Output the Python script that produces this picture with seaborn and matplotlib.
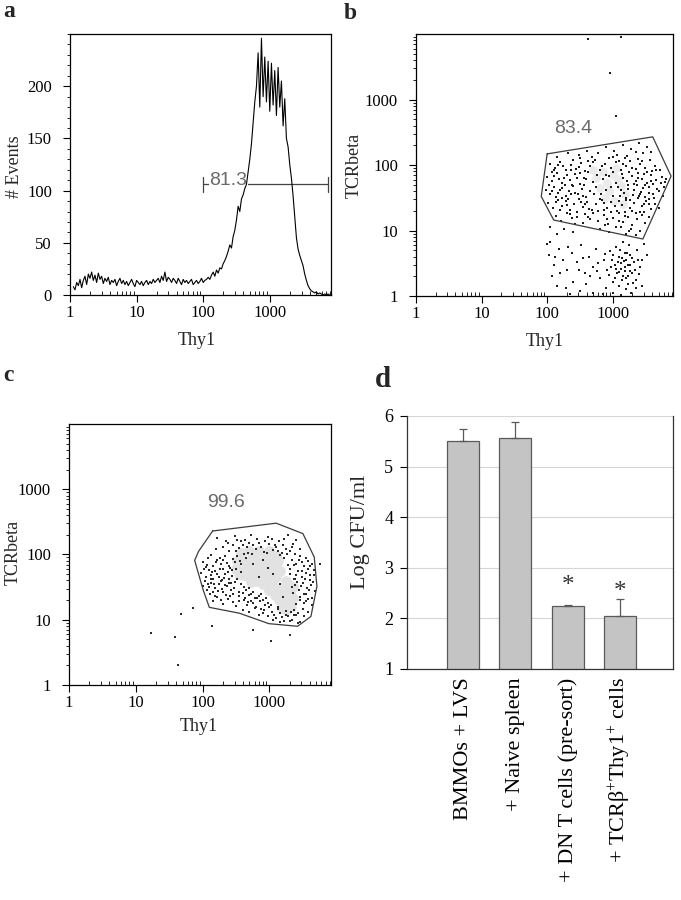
import numpy as np
import matplotlib
matplotlib.use("Agg")
import matplotlib.pyplot as plt
from matplotlib.ticker import LogLocator, NullFormatter, MultipleLocator
import seaborn as sns

sns.set_theme(style="ticks", rc={"axes.edgecolor": "black", "axes.linewidth": 0.9,
                                 "xtick.color": "black", "ytick.color": "black"})
plt.rcParams['font.family'] = ['Liberation Serif', 'DejaVu Serif']
plt.rcParams['mathtext.fontset'] = 'custom'
plt.rcParams['mathtext.rm'] = 'Liberation Serif'
plt.rcParams['mathtext.default'] = 'regular'

# ---- panel a : Thy1 histogram (channel position in log10 units, counts)
hist_log0, hist_step = 0.05, 0.025
hist_counts = [8, 5, 12, 9, 15, 7, 14, 18, 10, 20, 16,
               22, 14, 19, 12, 21, 15, 18, 11, 16, 13,
               17, 10, 14, 12, 15, 9, 13, 16, 11, 14,
               10, 13, 9, 12, 15, 11, 8, 14, 12, 10,
               13, 9, 12, 14, 10, 13, 11, 15, 12, 14,
               16, 12, 18, 14, 22, 13, 17, 15, 12, 16,
               14, 11, 16, 13, 10, 15, 12, 14, 11, 13,
               15, 10, 12, 14, 11, 13, 16, 12, 14, 15,
               17, 15, 19, 22, 18, 24, 21, 26, 25, 30,
               33, 37, 42, 48, 45, 56, 62, 72, 85, 80,
               92, 96, 102, 106, 118, 130, 145, 165, 185, 200,
               232, 180, 246, 190, 228, 185, 224, 176, 222, 182,
               215, 172, 218, 180, 205, 162, 188, 150, 142, 125,
               112, 95, 75, 55, 44, 38, 33, 28, 20, 14,
               9, 6, 4, 3, 2, 3, 1, 2, 1, 0,
               1, 0, 1, 0]
gate_a = (100, 7600)
gate_a_y = 106
label_a = "81.3"

# ---- panel b : TCRbeta vs Thy1 (log10 units)
b_dark = [(2.15,2.12),(2.32,2.18),(2.48,2.15),(2.61,2.22),(2.77,2.19),(2.90,2.27),(3.02,2.21),(3.15,2.30),
          (3.28,2.25),(3.40,2.33),(3.52,2.28),(2.40,2.08),(2.95,2.10),(3.22,2.14),(3.46,2.18),(2.70,2.05),
          (3.10,2.06),(3.58,2.20),
          (2.05,2.02),(2.12,1.95),(2.20,2.05),(2.28,1.92),(2.36,2.00),(2.44,1.94),(2.52,2.03),(2.58,1.91),
          (2.66,1.98),(2.73,2.07),(2.80,1.93),(2.88,2.01),(2.97,1.95),(3.05,2.04),(3.12,1.92),(3.20,1.99),
          (3.27,2.06),(3.35,1.94),(3.42,2.02),(3.50,1.96),(3.57,2.08),(3.65,1.99),(3.72,1.93),(2.24,1.98),
          (2.62,2.06),(3.00,1.90),(3.38,2.09),(3.60,1.91),(2.48,1.97),(3.16,2.01),
          (2.00,1.82),(2.08,1.75),(2.15,1.88),(2.22,1.72),(2.30,1.84),(2.35,1.77),(2.42,1.86),(2.50,1.71),
          (2.56,1.80),(2.63,1.89),(2.70,1.74),(2.76,1.85),(2.85,1.78),(2.95,1.83),(3.05,1.72),(3.14,1.87),
          (3.22,1.76),(3.29,1.83),(3.33,1.71),(3.39,1.88),(3.45,1.79),(3.52,1.73),(3.58,1.85),(3.66,1.77),
          (3.75,1.82),(3.80,1.74),(2.18,1.79),(2.46,1.80),(3.25,1.90),(3.48,1.86),(3.62,1.71),(2.38,1.70),
          (2.11,1.83),(3.36,1.76),
          (1.98,1.62),(2.04,1.55),(2.10,1.67),(2.17,1.58),(2.23,1.65),(2.29,1.52),(2.34,1.61),(2.40,1.68),
          (2.47,1.56),(2.53,1.64),(2.59,1.51),(2.66,1.60),(2.74,1.66),(2.82,1.55),(2.90,1.62),(3.00,1.53),
          (3.08,1.66),(3.17,1.57),(3.24,1.63),(3.31,1.54),(3.37,1.69),(3.43,1.59),(3.49,1.51),(3.55,1.66),
          (3.61,1.56),(3.68,1.63),(3.76,1.53),(2.13,1.51),(2.37,1.55),(2.56,1.69),(3.21,1.50),(3.46,1.65),
          (2.27,1.69),(3.13,1.62),(3.40,1.52),(2.07,1.60),
          (2.02,1.42),(2.09,1.35),(2.16,1.47),(2.22,1.38),(2.28,1.45),(2.35,1.32),(2.41,1.41),(2.48,1.48),
          (2.55,1.36),(2.61,1.44),(2.68,1.31),(2.75,1.40),(2.83,1.47),(2.91,1.35),(2.98,1.43),(3.06,1.30),
          (3.14,1.39),(3.21,1.46),(3.27,1.34),(3.33,1.42),(3.39,1.49),(3.45,1.37),(3.51,1.45),(3.58,1.33),
          (3.64,1.41),(3.70,1.35),(2.31,1.39),(2.52,1.43),(2.87,1.32),(3.10,1.45),(3.30,1.30),(3.55,1.48),
          (2.19,1.31),(3.48,1.40),
          (2.14,1.22),(2.21,1.15),(2.30,1.26),(2.38,1.19),(2.46,1.28),(2.54,1.12),(2.62,1.21),(2.70,1.27),
          (2.78,1.14),(2.86,1.23),(2.93,1.10),(3.01,1.19),(3.09,1.26),(3.16,1.13),(3.23,1.21),(3.30,1.08),
          (3.37,1.17),(3.44,1.24),(3.50,1.11),(3.56,1.20),(2.97,1.29),(3.19,1.28),(2.58,1.25),(3.41,1.29),
          (3.12,1.05),
          (2.80,1.03),(2.95,0.98),(3.05,1.06),(3.20,0.95),(3.28,1.02),(3.35,0.93),(3.42,1.00),(2.88,1.08),
          (2.05,1.05),(2.15,0.95),(2.25,1.02),(2.00,0.80),(2.40,0.98),
          (2.03,1.70),(2.07,1.90),(2.13,1.44),(2.17,2.00),(2.20,1.62),(2.26,1.80),(2.32,1.48),(2.37,1.93),
          (2.43,1.58),(2.45,1.20),(2.50,1.88),(2.55,1.52),(2.60,1.78),(2.64,1.33),(2.68,2.12),(2.72,1.56),
          (2.78,1.30),(2.83,1.98),(2.86,1.42),(2.92,1.18),(2.98,1.66),(3.03,1.38),(3.07,2.15),(3.11,1.52),
          (3.15,1.80),(3.18,1.22),(3.23,1.70),(3.26,1.46),(3.30,1.96),(3.32,1.62),(3.35,1.26),(3.38,1.80),
          (3.41,1.56),(3.44,2.06),(3.47,1.28),(3.50,1.70),(3.53,1.90),(3.56,1.40),(3.59,1.76),(3.63,1.50),
          (3.66,1.92),(3.70,1.60),(3.73,1.72),(3.78,1.66),(3.82,1.78),(2.58,1.40),(2.35,1.25),(2.22,1.50),
          (2.10,1.92),(3.00,2.12),(2.90,1.85),(3.18,2.10),(3.36,2.20),(2.50,2.10),(2.80,1.48),(3.10,1.15),
          (3.25,1.00),(2.66,1.18),(2.42,1.10),(3.55,1.58)]
b_low = [(2.03,0.62),(2.10,0.48),(2.18,0.72),(2.24,0.55),(2.08,0.30),(2.30,0.40),(2.38,0.66),(2.45,0.52),
         (2.52,0.78),(2.58,0.35),(2.64,0.60),(2.70,0.45),(2.75,0.72),(2.81,0.28),(2.86,0.55),(2.92,0.40),
         (2.96,0.68),(3.00,0.22),(3.03,0.48),(3.06,0.35),(3.09,0.60),(3.12,0.42),(3.14,0.25),(3.17,0.53),
         (3.19,0.38),(3.22,0.65),(3.24,0.30),(3.27,0.47),(3.29,0.58),(3.31,0.20),(3.34,0.40),(3.37,0.70),
         (3.40,0.33),(3.44,0.55),(3.48,0.80),(3.52,0.62),(3.10,0.15),(3.20,0.10),(2.90,0.12),(3.05,0.75),
         (3.15,0.82),(3.25,0.78),(2.60,0.18),(2.40,0.22),(2.15,0.15),(2.50,0.08),(2.70,0.05),(2.85,0.03),
         (3.00,0.04),(3.13,0.02),(3.28,0.05),(2.35,0.03),(2.95,0.32),(3.08,0.52),(3.18,0.45),(3.23,0.18),
         (3.33,0.52),(3.01,0.62),(2.78,0.50),(2.66,0.30),(3.11,0.70),(3.26,0.38),(3.16,0.30),(3.04,0.28),
         (3.21,0.55),(2.98,0.45),(3.36,0.25),(2.48,0.40),(2.20,0.35),(2.12,0.60),(3.45,0.15),(3.42,0.45),
         (3.05,0.42),(3.14,0.58),(3.20,0.28),(3.27,0.62),(3.30,0.35),(3.18,0.66),(3.09,0.36),(3.24,0.48),
         (2.99,0.55),(3.12,0.50),(2.88,0.64),(2.76,0.38),(2.55,0.58),(2.32,0.75),(3.38,0.55),(3.35,0.12),
         (2.05,0.82),(2.28,0.12)]
b_light = [(2.75,1.80),(2.85,1.90),(2.92,1.72),(3.00,1.85),(3.08,1.78),(2.80,1.65),(2.95,1.60),
           (3.05,1.95),(3.12,1.68),(2.70,1.92),(3.18,1.55),(2.88,1.50),(3.02,1.45),(3.15,1.40)]
b_outliers = [(2.62,3.93),(2.96,3.40),(3.05,2.75),(3.12,3.95)]
gate_b = [(2.00,2.17),(3.61,2.43),(3.89,1.83),(3.46,0.87),(2.10,1.16),(1.91,1.52),(2.00,2.17)]
label_b = "83.4"

# ---- panel c : TCRbeta vs Thy1 after sort (log10 units)
c_dark = [(2.22,2.25),(2.35,2.20),(2.48,2.28),(2.60,2.15),(2.72,2.30),(2.85,2.18),(2.98,2.27),(3.10,2.12),
          (3.22,2.24),(3.35,2.16),(3.45,2.08),(2.40,2.05),(2.55,2.10),(2.68,2.02),(2.80,2.08),(2.92,2.04),
          (3.05,2.07),(3.18,2.03),(3.30,2.05),(2.30,2.12),(2.64,2.22),(3.00,2.16),(3.28,2.30),(3.14,2.20),
          (2.45,2.15),(2.76,2.14),(3.40,2.22),(2.20,2.08),
          (2.00,1.88),(2.08,1.95),(2.15,1.82),(2.22,1.92),(2.28,1.85),(2.34,1.98),(2.40,1.83),(2.46,1.93),
          (2.52,1.97),(2.58,1.86),(3.22,1.95),(3.28,1.84),(3.34,1.92),(3.40,1.86),(3.46,1.97),(3.52,1.82),
          (3.58,1.90),(3.64,1.85),(2.12,1.99),(2.65,1.95),(3.15,1.99),(2.05,1.81),(3.48,1.89),(2.30,1.92),
          (1.98,1.72),(2.05,1.65),(2.10,1.76),(2.16,1.62),(2.21,1.70),(2.26,1.78),(2.32,1.64),(2.38,1.73),
          (2.44,1.67),(2.50,1.77),(3.30,1.70),(3.36,1.63),(3.42,1.75),(3.48,1.66),(3.54,1.72),(3.60,1.61),
          (3.66,1.69),(2.13,1.69),(2.29,1.61),(2.41,1.79),(3.39,1.68),(3.57,1.78),(2.02,1.78),(2.19,1.75),
          (2.00,1.52),(2.06,1.45),(2.12,1.57),(2.18,1.48),(2.24,1.55),(2.30,1.42),(2.36,1.51),(2.42,1.46),
          (2.48,1.58),(2.55,1.43),(2.62,1.50),(3.38,1.53),(3.44,1.45),(3.50,1.57),(3.56,1.48),(3.62,1.54),
          (3.68,1.44),(2.15,1.42),(2.27,1.59),(2.39,1.56),(2.58,1.55),(3.47,1.51),(3.35,1.41),(2.09,1.50),
          (2.15,1.28),(2.22,1.35),(2.30,1.24),(2.38,1.32),(2.46,1.27),(2.54,1.36),(2.62,1.30),(2.70,1.38),
          (2.76,1.25),(2.82,1.33),(3.45,1.35),(3.52,1.26),(3.58,1.32),(3.64,1.22),(3.40,1.24),(2.50,1.21),
          (2.66,1.22),(2.88,1.39),(2.35,1.38),(3.55,1.39),
          (2.70,1.12),(2.78,1.18),(2.85,1.08),(2.92,1.15),(2.98,1.05),(3.04,1.12),(3.10,1.02),(3.16,1.10),
          (3.22,0.98),(3.28,1.06),(3.34,1.00),(3.40,1.08),(3.46,0.97),(3.52,1.05),(2.60,1.15),(3.00,1.19),
          (3.13,1.17),(3.37,1.15),(3.57,1.12),(3.25,1.14),
          (2.65,1.45),(2.72,1.40),(2.78,1.34),(2.86,1.28),(2.94,1.22),(2.70,1.48),(2.90,1.30),(2.98,1.26),
          (2.75,1.85),(2.90,1.92),(3.05,1.70),(2.85,1.65),(3.15,1.55),(3.20,1.35),(2.98,1.80),
          (2.03,1.60),(2.07,1.84),(2.11,1.40),(2.14,1.73),(2.17,1.55),(2.20,1.88),(2.23,1.44),(2.25,1.66),
          (2.27,1.31),(2.31,1.77),(2.33,1.53),(2.36,1.87),(2.39,1.63),(2.41,1.36),(2.44,1.76),(2.47,1.49),
          (2.49,1.88),(2.52,1.62),(2.54,1.28),(2.57,1.73),(2.60,1.41),(2.18,1.36),(2.26,1.94),(2.43,1.56),
          (2.34,1.70),(2.12,1.63),(2.08,1.55),(2.29,1.47),(2.46,1.40),(2.56,1.90),
          (2.38,2.18),(2.50,2.06),(2.58,2.20),(2.66,2.12),(2.74,2.00),(2.82,2.24),(2.88,2.11),(2.96,2.02),
          (3.04,2.24),(3.12,2.06),(3.20,2.15),(3.26,2.01),(3.33,2.11),(3.38,2.00),(2.70,2.18),(2.94,2.20),
          (3.08,2.15),(2.52,2.22),(3.24,2.08),(2.62,2.00),
          (3.31,1.78),(3.37,1.84),(3.41,1.58),(3.44,1.92),(3.46,1.30),(3.49,1.74),(3.51,1.40),(3.53,1.62),
          (3.55,1.94),(3.59,1.45),(3.61,1.82),(3.63,1.34),(3.65,1.58),(3.67,1.76),(3.43,1.10),(3.50,1.17),
          (3.38,1.62),(3.33,1.50),(3.54,1.28),(3.60,1.68),
          (2.64,1.33),(2.73,1.29),(2.80,1.20),(2.84,1.37),(2.90,1.10),(2.95,1.33),(3.02,1.23),(3.07,1.08),
          (3.12,1.20),(3.18,1.04),(3.24,1.08),(3.30,0.98),(3.36,1.07),(3.42,0.95),(2.76,1.42),(2.68,1.27),
          (3.15,0.97),(2.88,1.17),(3.05,1.00),(3.32,1.12)]
c_light = [(2.60,1.75),(2.65,1.88),(2.70,1.65),(2.75,1.95),(2.80,1.78),(2.85,1.88),(2.88,1.70),(2.92,1.82),
           (2.95,1.98),(3.00,1.75),(3.02,1.90),(3.08,1.82),(3.10,1.65),(2.72,1.58),(2.82,1.60),(2.96,1.62),
           (3.05,1.52),(3.12,1.45),(3.18,1.38),(3.22,1.50),(3.26,1.28),(3.30,1.42),(3.32,1.20),(3.20,1.22),
           (3.14,1.30),(3.08,1.38),(3.24,1.60),(2.78,1.70),(2.68,1.80),(3.00,1.45),(3.28,1.55),(3.18,1.18),
           (2.90,1.55),(3.10,1.98),(2.62,1.68),(3.35,1.33),
           (2.52,1.90),(2.55,1.70),(2.58,2.02),(2.70,2.05),(2.85,2.05),(3.00,2.06),(3.12,1.90),(3.15,1.75),
           (3.30,1.30),(3.35,1.50),(3.25,1.15),(2.50,1.78)]
c_outliers = [(1.23,0.79),(1.58,0.74),(1.63,0.31),(1.68,1.09),(1.86,1.18),(2.14,0.91),(2.76,0.84),
              (3.02,0.67),(3.30,0.77),(3.75,1.85)]
gate_c = [(2.15,2.36),(3.10,2.48),(3.50,2.32),(3.67,1.96),(3.71,1.51),(3.62,1.05),(3.42,0.90),
          (2.99,0.94),(2.55,1.10),(2.10,1.19),(2.01,1.45),(1.88,1.91),(1.94,2.05),(2.15,2.36)]
label_c = "99.6"

# ---- panel d : bacterial growth
groups = ["BMMOs + LVS", "+ Naive spleen", "+ DN T cells (pre-sort)",
          "+ TCRβ$^{+}$Thy1$^{+}$ cells"]
log_cfu = [5.50, 5.57, 2.24, 2.05]
log_cfu_err = [0.25, 0.32, 0.03, 0.34]
star_groups = [2, 3]
star_base = [2.52, 2.41]

decades = [1, 10, 100, 1000]
decade_labels = ["1", "10", "100", "1000"]

fig = plt.figure(figsize=(6.81, 9), dpi=100)
ax_a = fig.add_axes([0.1028, 0.6722, 0.3833, 0.2900])
ax_b = fig.add_axes([0.6109, 0.6711, 0.3774, 0.2911])
ax_c = fig.add_axes([0.1013, 0.2389, 0.3847, 0.2900])
ax_d = fig.add_axes([0.5977, 0.2567, 0.3906, 0.2811])


def log_x_axis(ax):
    ax.set_xscale("log")
    ax.set_xlim(1, 10 ** 3.92)
    ax.set_xticks(decades)
    ax.set_xticklabels(decade_labels)
    ax.xaxis.set_minor_locator(LogLocator(base=10, subs=range(2, 10), numticks=20))
    ax.xaxis.set_minor_formatter(NullFormatter())
    ax.tick_params(axis="x", which="major", direction="out", length=5, width=0.8, pad=2, labelsize=12)
    ax.tick_params(axis="x", which="minor", direction="in", length=3, width=0.6)
    ax.set_xlabel("Thy1", fontsize=13)
    for s in ax.spines.values():
        s.set_linewidth(0.9)


def flow_dots(ax, dark, light, outliers, gate, label, label_pos, light_col, light_size, dot_col):
    ax.set_yscale("log")
    ax.set_ylim(1, 10 ** 4)
    lx = np.array(light)
    sns.scatterplot(x=10 ** lx[:, 0], y=10 ** lx[:, 1], s=light_size, marker="o", color=light_col,
                    linewidth=0, ax=ax, zorder=2)
    dk = np.array(dark + outliers)
    sns.scatterplot(x=10 ** dk[:, 0], y=10 ** dk[:, 1], s=4.5, marker="s", color=dot_col,
                    linewidth=0, ax=ax, zorder=3)
    g = np.array(gate)
    ax.plot(10 ** g[:, 0], 10 ** g[:, 1], color="#3c3c3c", lw=0.9, zorder=4)
    ax.text(10 ** label_pos[0], 10 ** label_pos[1], label, family="Liberation Sans",
            fontsize=14, color="#6a6a6a", ha="center", va="center")
    log_x_axis(ax)
    ax.set_yticks(decades)
    ax.set_yticklabels(decade_labels)
    ax.yaxis.set_minor_locator(LogLocator(base=10, subs=range(2, 10), numticks=20))
    ax.yaxis.set_minor_formatter(NullFormatter())
    ax.tick_params(axis="y", which="major", direction="out", length=5, width=0.8, pad=8, labelsize=12)
    ax.tick_params(axis="y", which="minor", direction="out", length=2.5, width=0.6)
    ax.set_ylabel("TCRbeta", fontsize=13)


# panel a
hist_x = 10 ** (hist_log0 + hist_step * np.arange(len(hist_counts)))
sns.lineplot(x=hist_x, y=hist_counts, color="black", lw=0.8, ax=ax_a, zorder=4)
ax_a.plot(gate_a, [gate_a_y, gate_a_y], color="#444444", lw=0.9, zorder=2)
for gx in gate_a:
    ax_a.plot([gx, gx], [gate_a_y - 7, gate_a_y + 7], color="#444444", lw=0.9, zorder=2)
ax_a.text(10 ** 2.38, gate_a_y + 4, label_a, family="Liberation Sans", fontsize=14, color="#6a6a6a",
          ha="center", va="center", zorder=3,
          bbox=dict(facecolor="white", edgecolor="none", pad=0.5))
log_x_axis(ax_a)
ax_a.set_ylim(0, 250)
ax_a.set_yticks([0, 50, 100, 150, 200])
ax_a.yaxis.set_minor_locator(MultipleLocator(10))
ax_a.tick_params(axis="y", which="major", direction="out", length=5, width=0.8, pad=8, labelsize=12)
ax_a.tick_params(axis="y", which="minor", direction="out", length=2.5, width=0.6)
ax_a.set_ylabel("# Events", fontsize=13)
ax_a.yaxis.set_label_coords(-0.18, 0.49)
ax_a.xaxis.set_label_coords(0.486, -0.14)

# panels b, c
flow_dots(ax_b, b_dark + b_low, b_light, b_outliers, gate_b, label_b, (2.40, 2.56),
          "#ebebeb", 40, "#1c1c1c")
ax_b.yaxis.set_label_coords(-0.206, 0.5)
ax_b.xaxis.set_label_coords(0.5, -0.14)
flow_dots(ax_c, c_dark, c_light, c_outliers, gate_c, label_c, (2.35, 2.80),
          "#e2e2e2", 60, "#2a2a2a")
ax_c.yaxis.set_label_coords(-0.18, 0.506)
ax_c.xaxis.set_label_coords(0.496, -0.126)

# panel d
ax_d.yaxis.grid(True, color="#d6d6d6", lw=0.8, zorder=0)
ax_d.set_axisbelow(True)
sns.barplot(x=groups, y=log_cfu, color="#c4c4c4", saturation=1, width=0.61,
            edgecolor="#5a5a5a", linewidth=0.9, ax=ax_d, zorder=2)
ax_d.errorbar(range(len(groups)), log_cfu, yerr=[np.zeros(len(groups)), log_cfu_err],
              fmt="none", ecolor="#5a5a5a", elinewidth=0.9, capsize=3, capthick=0.9, zorder=3)
for gi, sy in zip(star_groups, star_base):
    ax_d.text(gi, sy, "*", fontsize=18, color="#333333", ha="center", va="baseline")
ax_d.set_xlim(-1.07, 4.01)
ax_d.set_ylim(1, 6)
ax_d.set_yticks([1, 2, 3, 4, 5, 6])
ax_d.tick_params(axis="y", direction="out", length=5, width=0.8, pad=5, labelsize=13)
ax_d.tick_params(axis="x", length=0, pad=6, labelsize=16)
plt.setp(ax_d.get_xticklabels(), rotation=90)
ax_d.spines["top"].set_visible(False)
for s in ["left", "bottom", "right"]:
    ax_d.spines[s].set_linewidth(0.9)
    ax_d.spines[s].set_color("#333333")
ax_d.set_ylabel("Log CFU/ml", fontsize=16)
ax_d.yaxis.set_label_coords(-0.139, 0.54)

# panel letters
for txt, x, y, fs in [("a", 3, 17, 17), ("b", 344, 19, 17), ("c", 3, 381, 17), ("d", 375, 387, 21)]:
    fig.text(x / 681, 1 - y / 900, txt, fontsize=fs, fontweight="bold", ha="left", va="baseline")

fig.savefig("out.png", dpi=100)
